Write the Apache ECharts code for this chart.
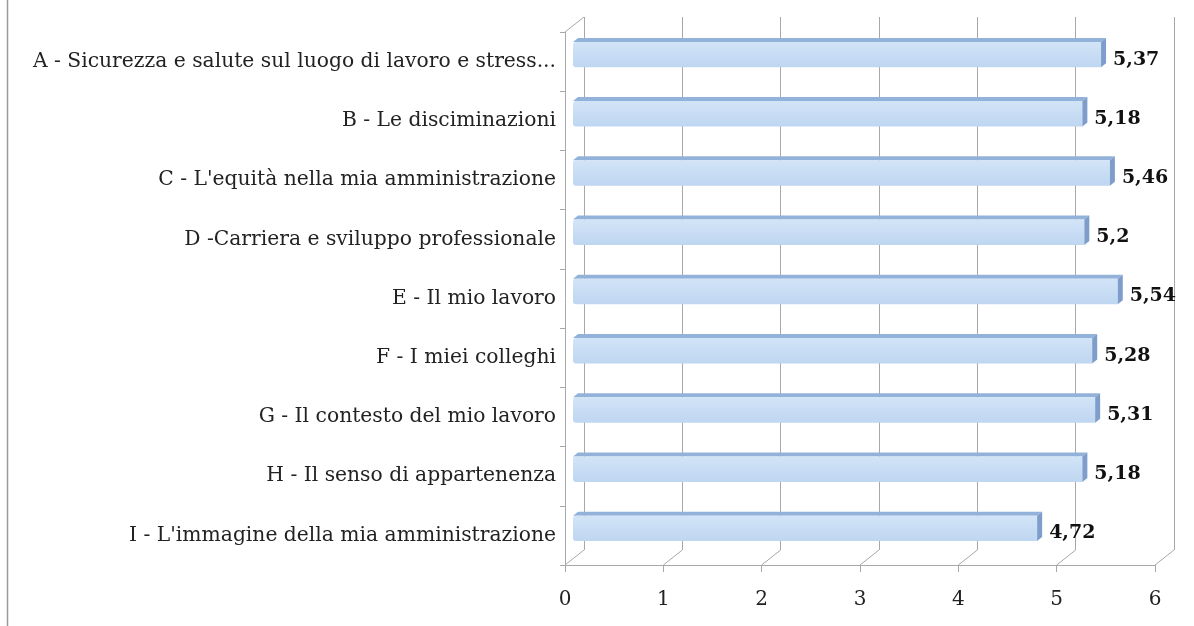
<!DOCTYPE html>
<html>
<head>
<meta charset="utf-8">
<script src="https://cdn.jsdelivr.net/npm/echarts@6/dist/echarts.min.js"></script>
<style>
html,body{margin:0;padding:0;background:#fff;}
#chart{width:1194px;height:626px;}
</style>
</head>
<body>
<div id="chart"></div>
<script>
var categories = [
  "A - Sicurezza e salute sul luogo di lavoro e stress...",
  "B - Le disciminazioni",
  "C - L'equità nella mia amministrazione",
  "D -Carriera e sviluppo professionale",
  "E - Il mio lavoro",
  "F - I miei colleghi",
  "G - Il contesto del mio lavoro",
  "H - Il senso di appartenenza",
  "I - L'immagine della mia amministrazione"
];
var values = [5.37, 5.18, 5.46, 5.2, 5.54, 5.28, 5.31, 5.18, 4.72];
var tickValues = [0, 1, 2, 3, 4, 5, 6];

var FONT = "'DejaVu Serif', 'Liberation Serif', serif";
var GRID_COLOR = '#a8a8a8';
var DX = 19, DY = 15;       // depth offset of the back wall
var BDX = 8, BDY = 7;       // bar front face offset
var BD = 5, BDH = 4;        // bar depth

var chart = echarts.init(document.getElementById('chart'));

var option = {
  animation: false,
  backgroundColor: '#ffffff',
  grid: [
    { left: 565, right: 39, top: 32, bottom: 61 },
    { left: 565 + DX, right: 39 - DX, top: 32 - DY, bottom: 61 + DY }
  ],
  xAxis: [
    {
      gridIndex: 0, type: 'value', min: 0, max: 6, interval: 1,
      axisLine: { show: true, lineStyle: { color: GRID_COLOR, width: 1 } },
      axisTick: { show: true, length: 7, lineStyle: { color: GRID_COLOR } },
      splitLine: { show: false },
      axisLabel: { fontFamily: FONT, fontSize: 20, color: '#222', margin: 25 }
    },
    {
      gridIndex: 1, type: 'value', min: 0, max: 6, interval: 1,
      axisLine: { show: false }, axisTick: { show: false },
      axisLabel: { show: false },
      splitLine: { show: true, lineStyle: { color: GRID_COLOR, width: 1 } }
    }
  ],
  yAxis: [
    {
      gridIndex: 0, type: 'category', data: categories, inverse: true,
      axisLine: { show: true, lineStyle: { color: GRID_COLOR, width: 1 } },
      axisTick: { show: true, length: 5, lineStyle: { color: GRID_COLOR } },
      axisLabel: { fontFamily: FONT, fontSize: 20.3, color: '#222', margin: 9 }
    },
    {
      gridIndex: 1, type: 'category', data: categories, inverse: true, show: false
    }
  ],
  series: [
    {
      // 3D floor / wall connecting lines
      type: 'custom',
      xAxisIndex: 0, yAxisIndex: 0,
      data: tickValues.map(function (v) { return [v, 0]; }),
      silent: true, clip: false, z: 1,
      renderItem: function (params, api) {
        var cs = params.coordSys;
        var p = api.coord([api.value(0), 0]);
        var bottom = cs.y + cs.height;
        var children = [{
          type: 'line',
          shape: { x1: p[0], y1: bottom, x2: p[0] + DX, y2: bottom - DY },
          style: { stroke: GRID_COLOR, lineWidth: 1 }
        }];
        if (params.dataIndex === 0) {
          children.push({
            type: 'line',
            shape: { x1: cs.x, y1: cs.y, x2: cs.x + DX, y2: cs.y - DY },
            style: { stroke: GRID_COLOR, lineWidth: 1 }
          });
        }
        return { type: 'group', children: children };
      }
    },
    {
      // 3D bars
      type: 'custom',
      xAxisIndex: 0, yAxisIndex: 0,
      data: values.map(function (v, i) { return [v, i]; }),
      clip: false, z: 3,
      renderItem: function (params, api) {
        var v = api.value(0), i = api.value(1);
        var s = api.coord([0, i]);
        var e = api.coord([v, i]);
        var band = api.size([0, 1])[1];
        var h = band * 0.43;
        var cy = s[1] - BDY;
        var x0 = s[0] + BDX, x1 = e[0] + BDX;
        var yT = cy - h / 2, yB = cy + h / 2;
        var label = String(v).replace('.', ',');
        return {
          type: 'group',
          children: [
            {
              type: 'polygon',
              shape: { points: [[x0, yT], [x1, yT], [x1 + BD, yT - BDH], [x0 + BD, yT - BDH]] },
              style: { fill: '#93b2da' }
            },
            {
              type: 'rect',
              shape: { x: x0, y: yT, width: x1 - x0, height: h, r: [3, 0, 0, 3] },
              style: {
                fill: new echarts.graphic.LinearGradient(0, 0, 0, 1, [
                  { offset: 0, color: '#d2e4f7' },
                  { offset: 0.5, color: '#c8ddf4' },
                  { offset: 1, color: '#bfd6f1' }
                ])
              }
            },
            {
              type: 'polygon',
              shape: { points: [[x1, yT], [x1 + BD, yT - BDH], [x1 + BD, yB - BDH], [x1, yB]] },
              style: { fill: '#7f9dcb' }
            },
            {
              type: 'text',
              style: {
                x: x1 + BD + 7, y: s[1] - 2,
                text: label,
                fontFamily: FONT, fontWeight: 'bold', fontSize: 19,
                fill: '#111', align: 'left', verticalAlign: 'middle'
              }
            }
          ]
        };
      }
    }
  ],
  graphic: [
    {
      type: 'line', silent: true,
      shape: { x1: 7.5, y1: 0, x2: 7.5, y2: 626 },
      style: { stroke: '#9a9a9a', lineWidth: 1.5 }
    }
  ]
};

chart.setOption(option);
</script>
</body>
</html>
